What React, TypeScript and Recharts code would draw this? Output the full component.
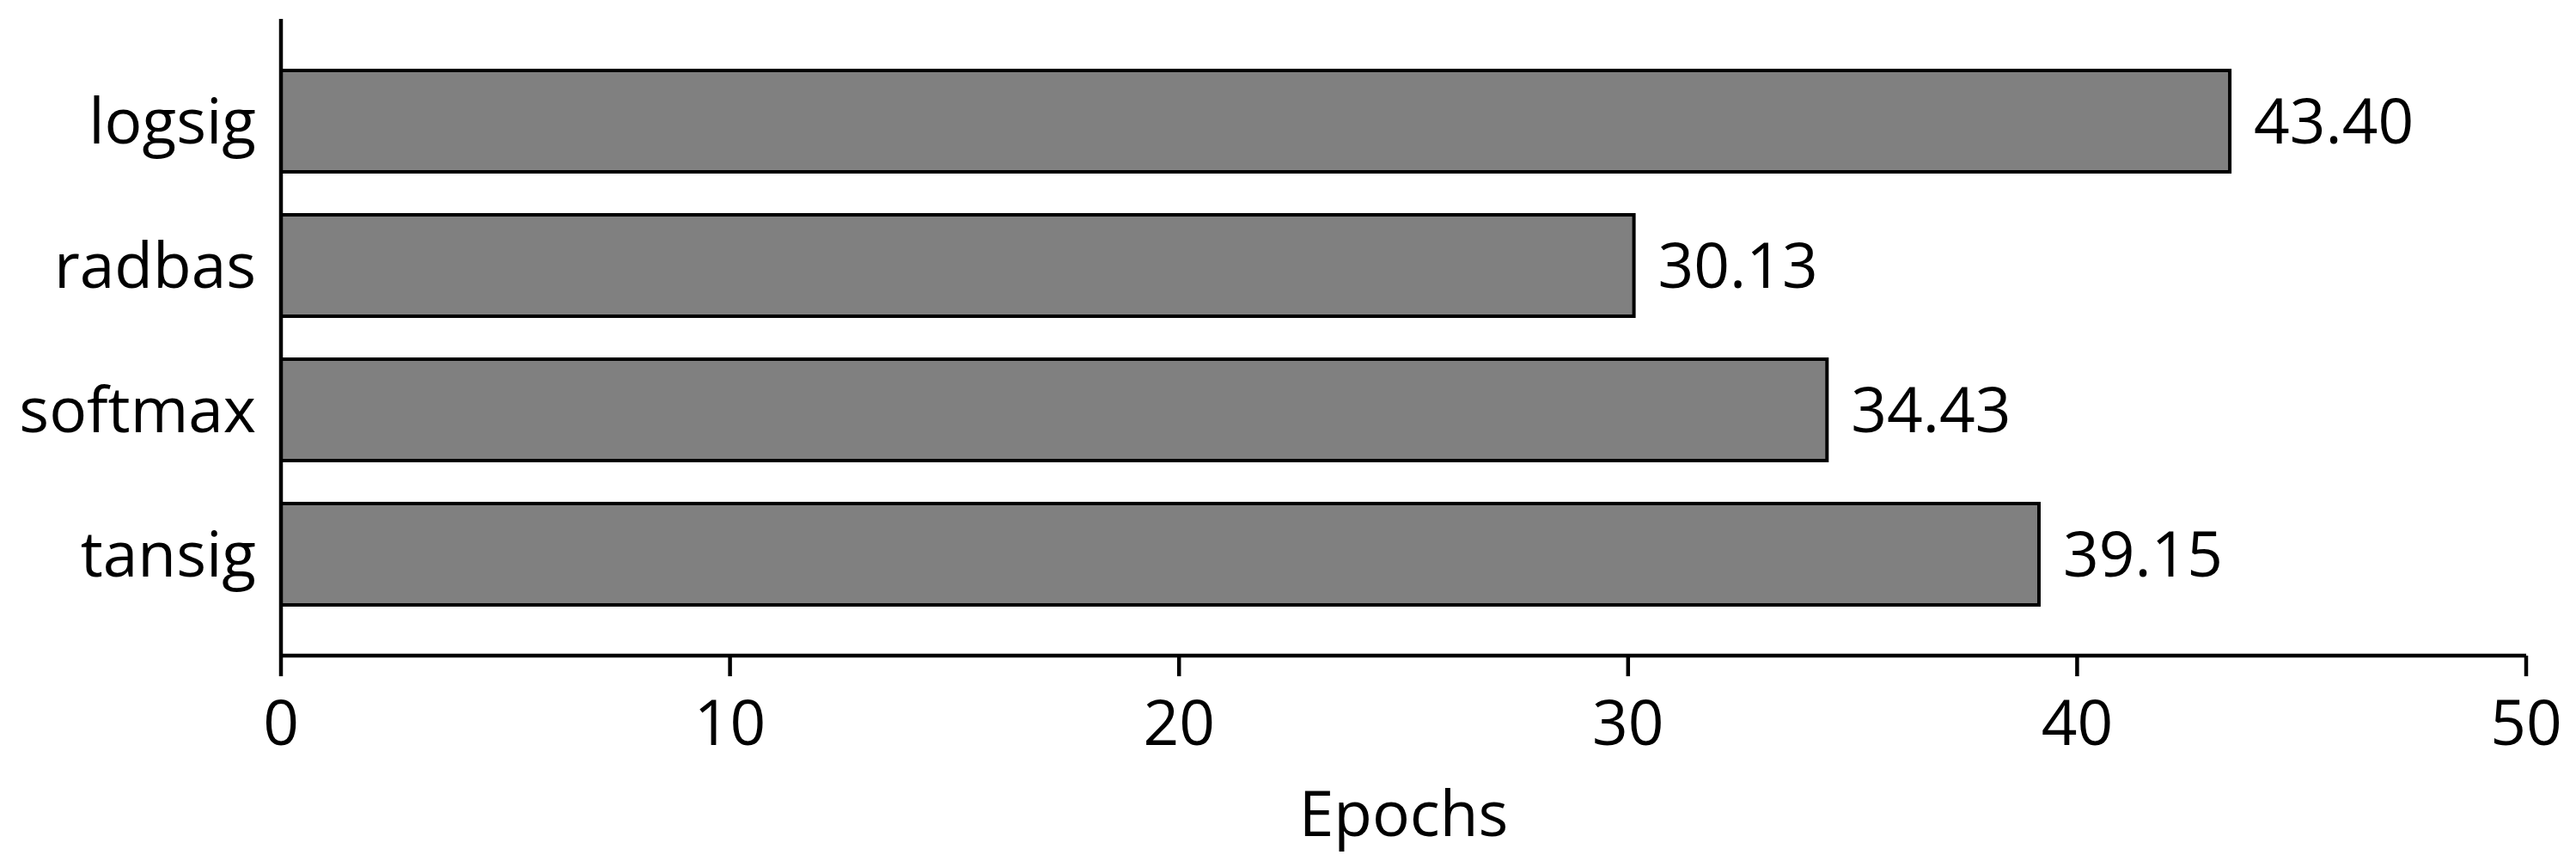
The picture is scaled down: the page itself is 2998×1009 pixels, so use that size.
import React from 'react';
import { BarChart, Bar, XAxis, YAxis, LabelList } from 'recharts';

const categories = ['logsig', 'radbas', 'softmax', 'tansig'];
const epochs = [43.4, 30.13, 34.43, 39.15];
const xTicks = [0, 10, 20, 30, 40, 50];

const data = categories.map((name, i) => ({ name, value: epochs[i] }));

const FONT = '"Open Sans", "Noto Sans", sans-serif';
const FS = 73;

export default function App() {
  return (
    <div style={{ width: 2990, height: 1001, background: '#fff' }}>
      <BarChart
        width={2990}
        height={1001}
        data={data}
        layout="vertical"
        margin={{ top: 14, right: 58, bottom: 6, left: 0 }}
      >
        <XAxis
          type="number"
          domain={[0, 50]}
          ticks={xTicks}
          height={240}
          axisLine={{ stroke: '#000', strokeWidth: 4.5 }}
          tickLine={{ stroke: '#000', strokeWidth: 4.5 }}
          tickSize={24}
          tickMargin={28}
          tick={{ fill: '#000', fontSize: FS, fontFamily: FONT }}
          label={{
            value: 'Epochs',
            position: 'insideBottom',
            offset: 30,
            fill: '#000',
            fontSize: FS,
            fontFamily: FONT,
          }}
        />
        <YAxis
          type="category"
          dataKey="name"
          width={319}
          padding={{ top: 35, bottom: 34 }}
          axisLine={{ stroke: '#000', strokeWidth: 4.5 }}
          tickLine={false}
          tickSize={0}
          tickMargin={29}
          tick={{ fill: '#000', fontSize: FS, fontFamily: FONT }}
        />
        <Bar
          dataKey="value"
          fill="#808080"
          stroke="#000"
          strokeWidth={4}
          barSize={118}
          isAnimationActive={false}
        >
          <LabelList
            dataKey="value"
            position="right"
            offset={28}
            formatter={(v: any) => Number(v).toFixed(2)}
            fill="#000"
            fontSize={FS}
            fontFamily={FONT}
          />
        </Bar>
      </BarChart>
    </div>
  );
}
